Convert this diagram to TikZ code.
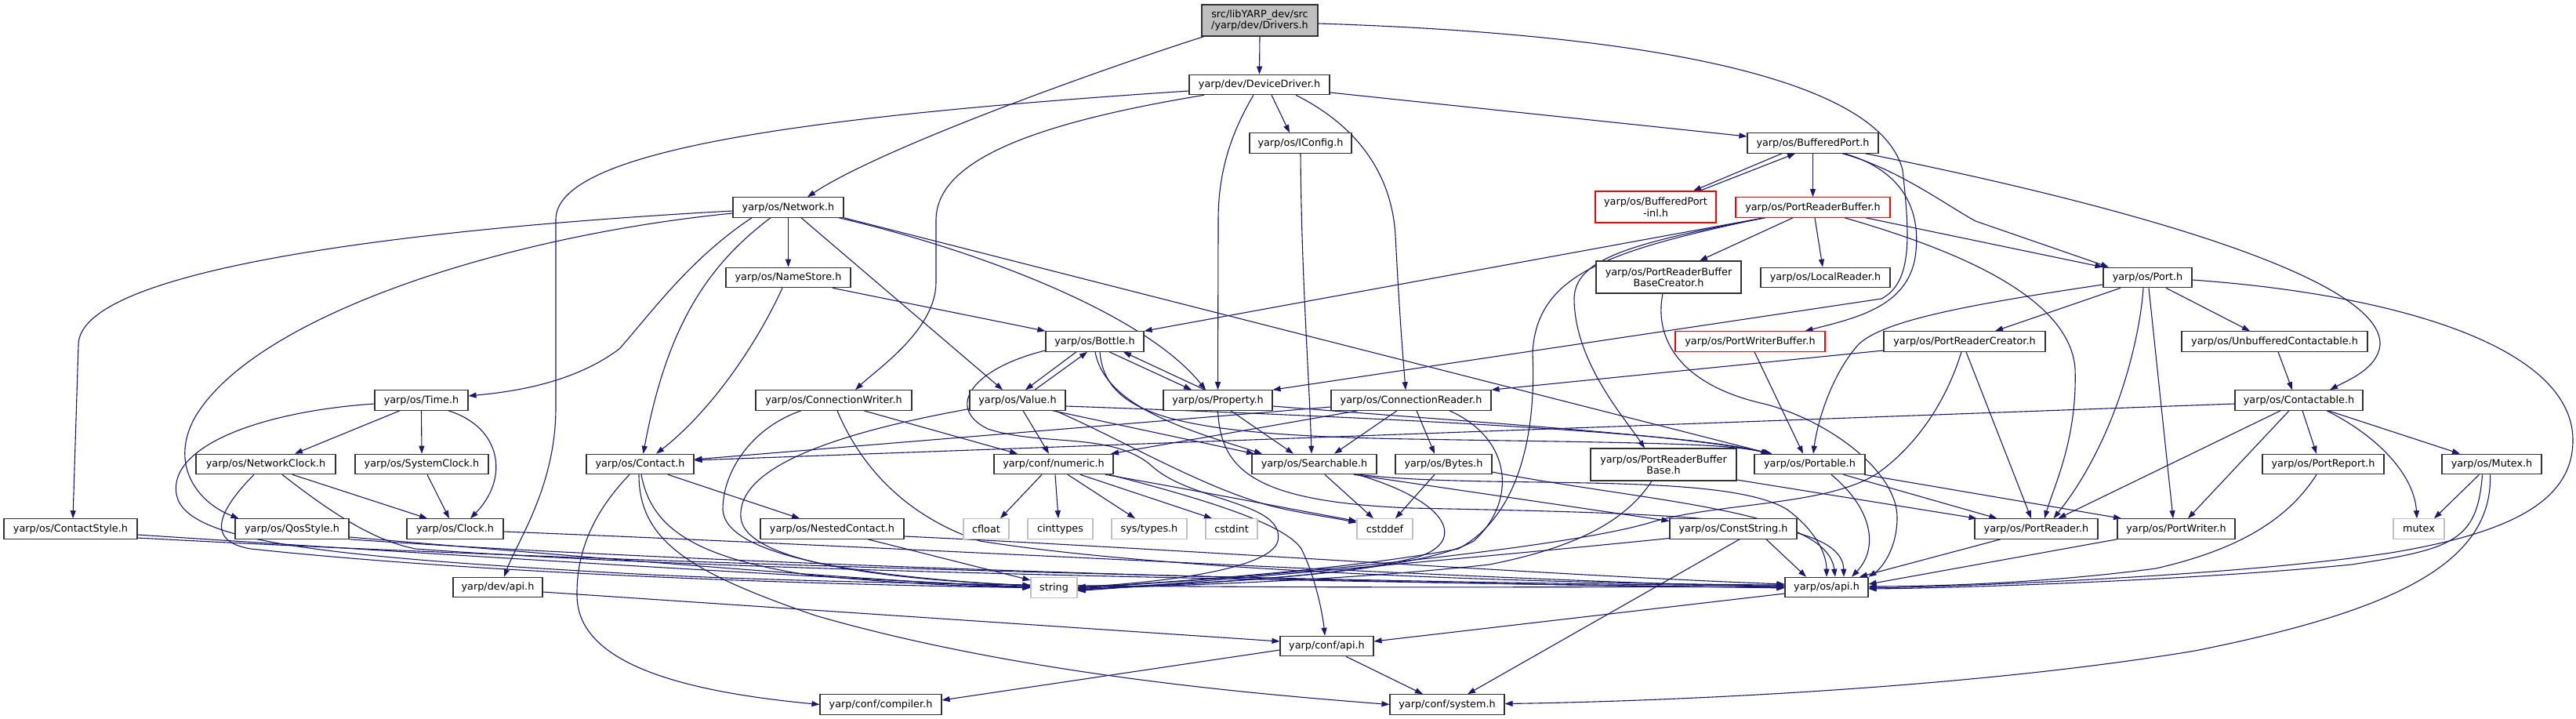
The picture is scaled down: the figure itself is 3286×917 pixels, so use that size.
\documentclass[tikz,border=0pt]{standalone}
\usepackage{fontspec}
\setmainfont{DejaVu Sans}
\usetikzlibrary{arrows.meta}
\pgfdeclarelayer{bg}
\pgfsetlayers{bg,main}
\definecolor{edgec}{HTML}{191970}
\definecolor{bord}{HTML}{333333}
\definecolor{grayb}{HTML}{BFBFBF}
\tikzset{
 box/.style={draw=bord, line width=1.1pt, fill=white, inner sep=0pt, font=\fontsize{12.8}{14.5}\selectfont, minimum height=25.5pt, align=center},
 redbox/.style={box, draw=red},
 graybox/.style={box, draw=grayb},
 rootbox/.style={box, fill=grayb, minimum height=40pt},
 e/.style={draw=edgec, line width=1.1pt, -{Triangle[length=10pt,width=7pt]}},
}
\begin{document}
\begin{tikzpicture}[x=1pt,y=-1pt]
\useasboundingbox (0,0) rectangle (3286,917);
% nodes
\node[rootbox,minimum width=148pt] (root) at (1607,26) {src/libYARP\_dev/src\\/yarp/dev/Drivers.h};
\node[box,minimum width=179pt] (dd) at (1606.5,108) {yarp/dev/DeviceDriver.h};
\node[box,minimum width=130pt] (iconfig) at (1659,182.5) {yarp/os/IConfig.h};
\node[box,minimum width=167pt] (bport) at (2312.5,182.5) {yarp/os/BufferedPort.h};
\node[redbox,minimum width=154pt,minimum height=40pt] (bpinl) at (2112,264) {yarp/os/BufferedPort\\-inl.h};
\node[redbox,minimum width=197pt] (prb) at (2312.5,264.5) {yarp/os/PortReaderBuffer.h};
\node[box,minimum width=141pt] (network) at (1005.5,264.5) {yarp/os/Network.h};
\node[box,minimum width=159pt] (namestore) at (1005.5,354) {yarp/os/NameStore.h};
\node[box,minimum width=185pt,minimum height=41pt] (prbbc) at (2128.5,353.5) {yarp/os/PortReaderBuffer\\BaseCreator.h};
\node[box,minimum width=165pt] (localreader) at (2328.5,354) {yarp/os/LocalReader.h};
\node[box,minimum width=113pt] (port) at (2739.5,354) {yarp/os/Port.h};
\node[box,minimum width=125pt] (bottle) at (1396.5,435.5) {yarp/os/Bottle.h};
\node[redbox,minimum width=191pt] (pwb) at (2232.5,435.5) {yarp/os/PortWriterBuffer.h};
\node[box,minimum width=206pt] (prc) at (2506,435.5) {yarp/os/PortReaderCreator.h};
\node[box,minimum width=237pt] (ucont) at (2901.5,435.5) {yarp/os/UnbufferedContactable.h};
\node[box,minimum width=119pt] (time) at (537.5,510.5) {yarp/os/Time.h};
\node[box,minimum width=199pt] (cwriter) at (1063.5,510.5) {yarp/os/ConnectionWriter.h};
\node[box,minimum width=122pt] (value) at (1298,510.5) {yarp/os/Value.h};
\node[box,minimum width=139pt] (property) at (1553.5,510.5) {yarp/os/Property.h};
\node[box,minimum width=204pt] (creader) at (1800,510.5) {yarp/os/ConnectionReader.h};
\node[box,minimum width=163pt] (contactable) at (2932.5,510.5) {yarp/os/Contactable.h};
\node[box,minimum width=178pt] (netclock) at (339,592) {yarp/os/NetworkClock.h};
\node[box,minimum width=170pt] (sysclock) at (538,592) {yarp/os/SystemClock.h};
\node[box,minimum width=137pt] (contact) at (816.5,592) {yarp/os/Contact.h};
\node[box,minimum width=152pt] (numeric) at (1344,592) {yarp/conf/numeric.h};
\node[box,minimum width=159pt] (searchable) at (1676.5,592) {yarp/os/Searchable.h};
\node[box,minimum width=123pt] (bytes) at (1841.5,592) {yarp/os/Bytes.h};
\node[box,minimum width=186pt,minimum height=41pt] (prbb) at (2122,592.5) {yarp/os/PortReaderBuffer\\Base.h};
\node[box,minimum width=141pt] (portable) at (2308.5,592) {yarp/os/Portable.h};
\node[box,minimum width=155pt] (portreport) at (2963.5,592) {yarp/os/PortReport.h};
\node[box,minimum width=127pt] (mutexh) at (3178.5,592) {yarp/os/Mutex.h};
\node[box,minimum width=170pt] (cstyle) at (90,674.5) {yarp/os/ContactStyle.h};
\node[box,minimum width=145pt] (qos) at (372.5,674.5) {yarp/os/QosStyle.h};
\node[box,minimum width=123pt] (clock) at (580.5,674.5) {yarp/os/Clock.h};
\node[box,minimum width=183pt] (nested) at (1061.5,674.5) {yarp/os/NestedContact.h};
\node[graybox,minimum width=58pt] (cfloat) at (1258,674.5) {cfloat};
\node[graybox,minimum width=83pt] (cinttypes) at (1352.5,674.5) {cinttypes};
\node[graybox,minimum width=96pt] (systypes) at (1466,674.5) {sys/types.h};
\node[graybox,minimum width=66pt] (cstdint) at (1571,674.5) {cstdint};
\node[graybox,minimum width=71pt] (cstddef) at (1766.5,674.5) {cstddef};
\node[box,minimum width=162pt] (cstring) at (2211,674.5) {yarp/os/ConstString.h};
\node[box,minimum width=157pt] (preader) at (2597.5,674.5) {yarp/os/PortReader.h};
\node[box,minimum width=150pt] (pwriter) at (2776,674.5) {yarp/os/PortWriter.h};
\node[graybox,minimum width=65pt] (mutex) at (3085.5,674.5) {mutex};
\node[box,minimum width=114pt] (devapi) at (635,749) {yarp/dev/api.h};
\node[graybox,minimum width=59pt] (string) at (1344.5,749.5) {string};
\node[box,minimum width=106pt] (osapi) at (2330,749) {yarp/os/api.h};
\node[box,minimum width=119pt] (confapi) at (1692.5,824) {yarp/conf/api.h};
\node[box,minimum width=155pt] (compiler) at (1123.5,898.5) {yarp/conf/compiler.h};
\node[box,minimum width=146pt] (system) at (1846,898.5) {yarp/conf/system.h};

\begin{pgfonlayer}{bg}
\fill[white] (0,0) rectangle (3286,917);
% root
\draw[e] (root.south) -- (dd.north);
\draw[e] ([xshift=-71pt]root.south) .. controls (1430,80) and (1130,185) .. ([xshift=24.5pt]network.north);
\draw[e] ([yshift=-4pt]root.east) .. controls (2150,45) and (2400,110) .. (2427,217) .. controls (2436,300) and (2440,360) .. (2400,381) -- (property.north east);
% DeviceDriver
\draw[e] ([xshift=15.5pt]dd.south) -- ([xshift=-14pt]iconfig.north);
\draw[e] ([yshift=-10pt]dd.east) -- ([yshift=8.5pt]bport.west);
\draw[e] ([yshift=-8pt]dd.west) .. controls (1000,150) and (709,195) .. (709,280) -- (709,520) .. controls (709,620) and (660,690) .. ([xshift=8pt]devapi.north);
\draw[e] ([xshift=-70.5pt]dd.south) .. controls (1300,160) and (1195,210) .. (1194,280) -- (1194,360) .. controls (1194,420) and (1120,470) .. ([xshift=27.5pt]cwriter.north);
\draw[e] ([xshift=-7.5pt]dd.south) .. controls (1570,170) and (1554,220) .. (1554,280) -- (property.north);
\draw[e] ([xshift=46.5pt]dd.south) .. controls (1730,160) and (1775,220) .. (1780,300) .. controls (1785,400) and (1790,460) .. ([xshift=-7pt]creader.north);
% Network
\draw[e] ([yshift=-4.5pt]network.west) .. controls (550,290) and (100,340) .. (100,440) -- ([xshift=3pt]cstyle.north);
\draw[e] ([yshift=-7.5pt]network.west) .. controls (650,300) and (330,400) .. (250,530) .. controls (215,590) and (250,640) .. ([xshift=-68pt]qos.north);
\draw[e] ([xshift=-46.5pt]network.south) .. controls (880,330) and (830,400) .. (790,445) .. controls (730,490) and (650,500) .. ([yshift=5.5pt]time.east);
\draw[e] ([xshift=-22.5pt]network.south) .. controls (900,340) and (850,420) .. ([xshift=4pt]contact.north);
\draw[e] (network.south) -- (namestore.north);
\draw[e] ([xshift=16.5pt]network.south) -- ([xshift=-19pt]value.north);
\draw[e] ([xshift=64.5pt]network.south) .. controls (1250,320) and (1460,400) .. ([xshift=-15.5pt]property.north);
\draw[e] (network.south east) -- ([xshift=-50pt]portable.north);
% NameStore
\draw[e] ([xshift=56.5pt]namestore.south) -- (bottle.north west);
\draw[e] ([xshift=-7.5pt]namestore.south) .. controls (960,450) and (900,530) .. ([xshift=20.5pt]contact.north);
% IConfig
\draw[e] (iconfig.south) .. controls (1660,350) and (1670,480) .. ([xshift=-3.5pt]searchable.north);
% BufferedPort
\draw[e] ([xshift=-39.5pt]bport.south) -- ([xshift=48pt]bpinl.north);
\draw[e] ([xshift=56pt]bpinl.north) -- ([xshift=-22.5pt]bport.south);
\draw[e] (bport.south) -- (prb.north);
\draw[e] ([xshift=37.5pt]bport.south) .. controls (2420,215) and (2480,260) .. (2520,282) -- ([xshift=-49.5pt]port.north);
\draw[e] ([xshift=67pt]bport.south) .. controls (2750,270) and (3040,360) .. (3036,440) .. controls (3033,470) and (2995,485) .. ([xshift=39.5pt]contactable.north);
\draw[e] ([xshift=40pt]bport.south) .. controls (2420,215) and (2450,260) .. (2444,320) .. controls (2438,390) and (2370,405) .. ([xshift=70pt]pwb.north);
% PortReaderBuffer
\draw[e] ([xshift=-62.5pt]prb.south) -- (bottle.north east);
\draw[e] ([xshift=-25.5pt]prb.south) -- ([xshift=39.5pt]prbbc.north);
\draw[e] ([xshift=2.5pt]prb.south) -- ([xshift=-3.5pt]localreader.north);
\draw[e] ([xshift=67.5pt]prb.south) -- (port.north west);
\draw[e] ([xshift=40.5pt]prb.south) .. controls (2500,320) and (2640,380) .. (2647,470) .. controls (2650,560) and (2620,620) .. ([xshift=10.5pt]preader.north);
\draw[e] ([xshift=-60.5pt]prb.south) .. controls (2080,310) and (2010,330) .. (2008,380) .. controls (2008,460) and (2070,530) .. ([xshift=-24pt]prbb.north);
\draw[e] ([xshift=-62.5pt]prb.south) .. controls (2050,320) and (1960,350) .. (1955,450) .. controls (1960,560) and (1935,660) .. (1860,700) .. controls (1700,730) and (1450,745) .. (string.east);
% Port
\draw[e] ([yshift=-9pt]port.west) .. controls (2500,390) and (2400,410) .. (2370,440) .. controls (2335,480) and (2318,540) .. ([xshift=4.5pt]portable.north);
\draw[e] ([xshift=-34.5pt]port.south) -- ([xshift=39pt]prc.north);
\draw[e] ([xshift=-5.5pt]port.south) .. controls (2730,430) and (2700,560) .. ([xshift=22pt]preader.north);
\draw[e] ([xshift=1.5pt]port.south) -- ([xshift=-4pt]pwriter.north);
\draw[e] ([xshift=23.5pt]port.south) -- ([xshift=-31.5pt]ucont.north);
\draw[e] ([yshift=-3pt]port.east) .. controls (3050,375) and (3280,440) .. (3282,560) .. controls (3283,640) and (3200,680) .. (3050,705) .. controls (2850,735) and (2500,748) .. ([yshift=-1pt]osapi.east);
% PortWriterBuffer, PortReaderCreator, UnbufferedContactable
\draw[e] ([xshift=5.5pt]pwb.south) -- ([xshift=-8.5pt]portable.north);
\draw[e] ([xshift=2pt]prc.south) -- ([xshift=-6.5pt]preader.north);
\draw[e] ([yshift=-11.5pt]prc.west) -- (creader.north east);
\draw[e] ([xshift=-4pt]prc.south) .. controls (2480,520) and (2440,570) .. (2400,600) .. controls (2340,645) and (2200,640) .. (2110,665) .. controls (2000,700) and (1600,738) .. (string.east);
\draw[e] ([xshift=4.5pt]ucont.south) -- ([xshift=-8.5pt]contactable.north);
% Time
\draw[e] ([xshift=-27.5pt]time.south) -- ([xshift=37pt]netclock.north);
\draw[e] (time.south) -- (sysclock.north);
\draw[e] ([xshift=34.5pt]time.south) .. controls (640,545) and (650,610) .. ([xshift=19.5pt]clock.north);
\draw[e] ([yshift=-4.5pt]time.west) .. controls (330,525) and (215,570) .. (225,630) .. controls (235,690) and (400,710) .. (830,733) .. controls (1300,755) and (2000,747) .. (osapi.west);
% NetworkClock, SystemClock, Clock
\draw[e] ([xshift=34pt]netclock.south) -- ([xshift=-35.5pt]clock.north);
\draw[e] ([xshift=-15pt]netclock.south) .. controls (280,650) and (260,690) .. (320,700) .. controls (600,730) and (1000,745) .. (string.west);
\draw[e] ([xshift=21pt]netclock.south) .. controls (430,660) and (480,690) .. (530,700) .. controls (1000,735) and (2000,745) .. ([yshift=-1pt]osapi.west);
\draw[e] ([xshift=7pt]sysclock.south) -- ([xshift=-7.5pt]clock.north);
\draw[e] ([yshift=-3.5pt]clock.east) .. controls (1200,700) and (2000,745) .. ([yshift=1pt]osapi.west);
% ContactStyle, QosStyle
\draw[e] ([yshift=-7.5pt]cstyle.east) .. controls (600,710) and (1100,740) .. ([yshift=1pt]string.west);
\draw[e] ([yshift=-11.5pt]cstyle.east) .. controls (800,720) and (1800,745) .. ([yshift=2pt]osapi.west);
\draw[e] ([yshift=-10.5pt]qos.east) .. controls (800,715) and (1100,740) .. (string.west);
\draw[e] (qos.south east) .. controls (900,720) and (1800,747) .. (osapi.west);
% Contact
\draw[e] ([xshift=35.5pt]contact.south) -- ([xshift=-41.5pt]nested.north);
\draw[e] ([xshift=1.5pt]contact.south) .. controls (830,670) and (880,710) .. (1030,733) .. controls (1150,745) and (1250,748) .. (string.west);
\draw[e] ([xshift=-1.5pt]contact.south) .. controls (815,690) and (880,730) .. (1040,785) .. controls (1300,860) and (1600,885) .. (system.west);
\draw[e] ([xshift=-13.5pt]contact.south) .. controls (760,650) and (735,700) .. (736,760) .. controls (737,840) and (850,880) .. (compiler.west);
% NestedContact
\draw[e] ([xshift=45.5pt]nested.south) -- ([yshift=9.5pt]string.west);
\draw[e] ([yshift=-9.5pt]nested.east) .. controls (1500,700) and (2000,735) .. ([yshift=4pt]osapi.west);
% ConnectionWriter
\draw[e] ([xshift=-41.5pt]cwriter.south) .. controls (960,545) and (922,600) .. (922,650) .. controls (925,710) and (1100,735) .. ([yshift=2pt]string.west);
\draw[e] ([xshift=38.5pt]cwriter.south) -- ([xshift=-46pt]numeric.north);
\draw[e] ([xshift=4.5pt]cwriter.south) .. controls (1100,600) and (1160,660) .. (1250,690) .. controls (1500,730) and (2000,745) .. ([yshift=3pt]osapi.west);
% Value
\draw[e] ([xshift=22pt]value.north) -- ([xshift=-9.5pt]bottle.south);
\draw[e] ([xshift=-23.5pt]bottle.south) -- ([xshift=10pt]value.north);
\draw[e] ([xshift=7pt]value.south) -- ([xshift=-6pt]numeric.north);
\draw[e] ([xshift=45pt]value.south) -- ([xshift=-76.5pt]searchable.north);
\draw[e] ([yshift=-7.5pt]value.east) .. controls (1700,530) and (2150,550) .. ([xshift=-52pt]portable.north);
\draw[e] ([xshift=48pt]value.south) .. controls (1430,560) and (1530,620) .. (1620,645) .. controls (1660,655) and (1700,660) .. ([yshift=8pt]cstddef.west);
\draw[e] ([yshift=-11pt]value.west) .. controls (1050,555) and (940,600) .. (945,660) .. controls (950,720) and (1150,740) .. ([yshift=3pt]string.west);
% Bottle
\draw[e] ([xshift=18.5pt]bottle.south) -- ([xshift=-33.5pt]property.north);
\draw[e] ([xshift=-16.5pt]property.north) -- ([xshift=36.5pt]bottle.south);
\draw[e] ([xshift=0.5pt]bottle.south) .. controls (1410,520) and (1520,550) .. ([xshift=-66.5pt]searchable.north);
\draw[e] ([xshift=6.5pt]bottle.south) .. controls (1410,530) and (1500,555) .. (1800,560) .. controls (2100,565) and (2200,565) .. ([xshift=-50pt]portable.north);
\draw[e] ([yshift=-11.5pt]bottle.west) .. controls (1240,470) and (1205,520) .. (1260,547) .. controls (1330,570) and (1420,550) .. (1470,595) .. controls (1520,640) and (1640,640) .. (1630,690) .. controls (1620,730) and (1450,745) .. ([yshift=1pt]string.east);
% Property
\draw[e] ([xshift=16.5pt]property.south) -- ([xshift=-26.5pt]searchable.north);
\draw[e] ([yshift=-7.5pt]property.east) .. controls (1900,540) and (2150,555) .. ([xshift=-48pt]portable.north);
\draw[e] (property.south) .. controls (1557,600) and (1600,640) .. (1800,648) .. controls (2150,655) and (2350,660) .. ([xshift=22pt]osapi.north);
% ConnectionReader
\draw[e] ([xshift=-18pt]creader.south) -- ([xshift=25.5pt]searchable.north);
\draw[e] ([xshift=7pt]creader.south) -- ([xshift=-11.5pt]bytes.north);
\draw[e] ([xshift=-68pt]creader.south) -- ([xshift=73pt]numeric.north);
\draw[e] ([yshift=-8.5pt]creader.west) -- ([yshift=6pt]contact.east);
\draw[e] ([xshift=49pt]creader.south) .. controls (1930,560) and (1935,640) .. (1880,690) .. controls (1800,735) and (1500,745) .. ([yshift=-1pt]string.east);
% Contactable
\draw[e] ([yshift=-4.5pt]contactable.west) -- ([yshift=5pt]contact.east);
\draw[e] ([xshift=-23.5pt]contactable.south) -- ([xshift=28pt]preader.north);
\draw[e] ([xshift=-12.5pt]contactable.south) -- ([xshift=15pt]pwriter.north);
\draw[e] ([xshift=4.5pt]contactable.south) -- ([xshift=-8.5pt]portreport.north);
\draw[e] ([xshift=35.5pt]contactable.south) .. controls (3040,560) and (3080,610) .. ([xshift=-2.5pt]mutex.north);
\draw[e] ([xshift=37.5pt]contactable.south) -- ([xshift=-40.5pt]mutexh.north);
% PortReport, Mutex
\draw[e] ([xshift=-8.5pt]portreport.south) .. controls (2920,660) and (2860,700) .. (2750,725) .. controls (2600,745) and (2450,748) .. ([yshift=1pt]osapi.east);
\draw[e] ([xshift=-16pt]mutexh.south) -- ([xshift=19.5pt]mutex.north);
\draw[e] ([xshift=-12pt]mutexh.south) .. controls (3160,690) and (3130,700) .. (3000,720) .. controls (2800,740) and (2500,750) .. ([yshift=-2pt]osapi.east);
\draw[e] ([xshift=-2pt]mutexh.south) .. controls (3180,720) and (3050,780) .. (2800,830) .. controls (2500,880) and (2100,895) .. ([yshift=1pt]system.east);
% PortReader, PortWriter, Portable, PRBB, PRBBC
\draw[e] ([xshift=-45.5pt]preader.south) -- ([xshift=42pt]osapi.north);
\draw[e] (pwriter.south west) -- ([yshift=4pt]osapi.east);
\draw[e] ([xshift=43pt]portable.south) -- ([xshift=-50pt]preader.north);
\draw[e] ([xshift=69.5pt]portable.south) -- ([xshift=-70pt]pwriter.north);
\draw[e] ([xshift=27.5pt]portable.south) .. controls (2390,650) and (2396,700) .. ([xshift=32pt]osapi.north);
\draw[e] ([yshift=-19.5pt]prbb.east) -- ([xshift=-76pt]preader.north);
\draw[e] ([xshift=-15pt]prbb.south) .. controls (2070,670) and (2000,700) .. (1900,720) .. controls (1700,742) and (1500,746) .. ([yshift=-2pt]string.east);
\draw[e] ([xshift=-7.5pt]prbbc.south) .. controls (2110,430) and (2140,490) .. (2250,515) .. controls (2330,535) and (2420,600) .. (2420,660) .. controls (2420,700) and (2400,725) .. (osapi.north east);
% Searchable, Bytes, ConstString
\draw[e] ([xshift=13.5pt]searchable.south) -- ([xshift=-14.5pt]cstddef.north);
\draw[e] ([xshift=-11.5pt]bytes.south) -- ([xshift=13.5pt]cstddef.north);
\draw[e] ([xshift=50.5pt]searchable.south) -- ([yshift=10pt]cstring.west);
\draw[e] ([xshift=55pt]searchable.south) .. controls (1850,640) and (1870,690) .. (1810,710) .. controls (1700,740) and (1450,747) .. ([yshift=-3pt]string.east);
\draw[e] ([xshift=58pt]searchable.south) .. controls (1900,625) and (2200,600) .. (2280,650) .. controls (2320,680) and (2330,710) .. (osapi.north);
\draw[e] ([yshift=-10pt]bytes.east) .. controls (2100,640) and (2330,650) .. ([xshift=11pt]osapi.north);
\draw[e] ([xshift=42pt]cstring.south) -- ([xshift=-26pt]osapi.north);
\draw[e] ([xshift=8pt]cstring.south) -- ([xshift=26pt]system.north);
\draw[e] ([yshift=-12pt]cstring.west) .. controls (1900,710) and (1500,745) .. ([yshift=-4pt]string.east);
% api headers
\draw[e] ([yshift=-8pt]osapi.west) -- ([yshift=6pt]confapi.east);
\draw[e] ([yshift=-6pt]devapi.east) -- ([yshift=6pt]confapi.west);
\draw[e] ([yshift=-5pt]confapi.west) -- ([yshift=5.5pt]compiler.east);
\draw[e] ([xshift=24.5pt]confapi.south) -- ([xshift=-31pt]system.north);
% numeric
\draw[e] ([xshift=-15pt]numeric.south) -- ([xshift=18pt]cfloat.north);
\draw[e] ([xshift=2pt]numeric.south) -- ([xshift=-2.5pt]cinttypes.north);
\draw[e] ([xshift=18pt]numeric.south) -- ([xshift=-18pt]systypes.north);
\draw[e] ([xshift=34pt]numeric.south) -- ([xshift=-25pt]cstdint.north);
\draw[e] ([xshift=66pt]numeric.south) .. controls (1550,630) and (1650,650) .. ([yshift=10pt]cstddef.west);
\draw[e] ([xshift=71pt]numeric.south) .. controls (1550,640) and (1640,670) .. (1660,700) .. controls (1680,740) and (1688,790) .. ([xshift=-2.5pt]confapi.north);
\end{pgfonlayer}
\end{tikzpicture}
\end{document}
